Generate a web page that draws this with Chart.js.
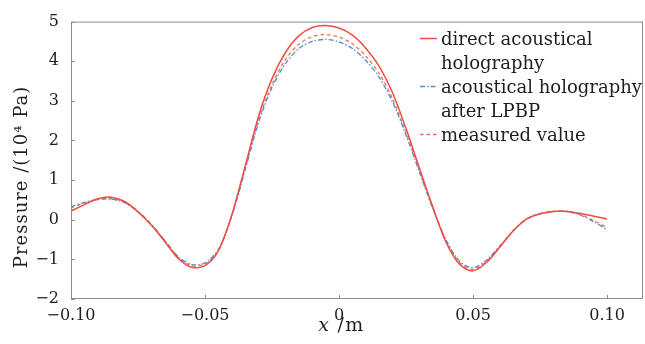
<!DOCTYPE html>
<html>
<head>
<meta charset="utf-8">
<script src="https://cdn.jsdelivr.net/npm/chart.js@4.4.1/dist/chart.umd.min.js"></script>
<style>
  html, body { margin: 0; padding: 0; background: #fff; }
  #wrap { width: 645px; height: 344px; }
</style>
</head>
<body>
<div id="wrap"><canvas id="chart" width="645" height="344"></canvas></div>
<script>
// x positions (m)
const xPos = [-0.100, -0.095, -0.090, -0.085, -0.080, -0.075, -0.070, -0.065, -0.060, -0.055,
              -0.050, -0.045, -0.040, -0.035, -0.030, -0.025, -0.020, -0.015, -0.010, -0.005,
               0.000,  0.005,  0.010,  0.015,  0.020,  0.025,  0.030,  0.035,  0.040,  0.045,
               0.050,  0.055,  0.060,  0.065,  0.070,  0.075,  0.080,  0.085,  0.090,  0.095, 0.100];

// pressure (10^4 Pa)
const direct = [0.22, 0.38, 0.53, 0.57, 0.46, 0.20, -0.14, -0.55, -0.98, -1.20,
                -1.16, -0.78, 0.12, 1.36, 2.62, 3.56, 4.22, 4.64, 4.85, 4.90,
                4.84, 4.66, 4.33, 3.87, 3.20, 2.30, 1.30, 0.32, -0.58, -1.13,
                -1.29, -1.08, -0.69, -0.28, 0.02, 0.15, 0.21, 0.21, 0.16, 0.09, 0.02];

const lpbp = [0.33, 0.44, 0.51, 0.52, 0.43, 0.20, -0.12, -0.52, -0.93, -1.13,
              -1.09, -0.75, 0.10, 1.26, 2.46, 3.34, 3.94, 4.32, 4.50, 4.55,
              4.49, 4.32, 4.02, 3.59, 2.97, 2.14, 1.20, 0.28, -0.52, -1.05,
              -1.21, -1.02, -0.66, -0.28, 0.02, 0.15, 0.21, 0.21, 0.12, -0.05, -0.25];

const measured = [0.30, 0.42, 0.51, 0.53, 0.44, 0.21, -0.12, -0.53, -0.95, -1.16,
                  -1.12, -0.77, 0.11, 1.30, 2.52, 3.41, 4.04, 4.43, 4.62, 4.67,
                  4.61, 4.44, 4.13, 3.69, 3.05, 2.19, 1.24, 0.29, -0.54, -1.08,
                  -1.25, -1.05, -0.67, -0.28, 0.02, 0.15, 0.21, 0.21, 0.13, -0.02, -0.20];

const xTicks = [-0.10, -0.05, 0, 0.05, 0.10];
const yTicks = [-2, -1, 0, 1, 2, 3, 4, 5];
const legendText = [
  ['direct acoustical', 'holography'],
  ['acoustical holography', 'after LPBP'],
  ['measured value']
];

const FONT = '"DejaVu Serif", "Liberation Serif", serif';
const INK = '#1e1e1e';

function pts(ys) {
  return xPos.map((x, i) => ({ x: x, y: ys[i] }));
}
function minus(s) {
  return s.replace('-', '\u2212');
}

// box, inward ticks, titles and legend
const decor = {
  id: 'decor',
  afterDraw(chart) {
    const { ctx, chartArea: a, scales } = chart;
    ctx.save();
    ctx.strokeStyle = '#8c8c8c';
    ctx.lineWidth = 1;
    ctx.strokeRect(a.left + 0.5, a.top + 0.5, a.right - a.left - 1, a.bottom - a.top - 1);
    ctx.beginPath();
    scales.x.ticks.forEach(t => {
      const px = Math.round(scales.x.getPixelForValue(t.value)) + 0.5;
      ctx.moveTo(px, a.bottom);
      ctx.lineTo(px, a.bottom - 4);
    });
    scales.y.ticks.forEach(t => {
      const py = Math.round(scales.y.getPixelForValue(t.value)) + 0.5;
      ctx.moveTo(a.left, py);
      ctx.lineTo(a.left + 4, py);
    });
    ctx.stroke();

    // x title
    ctx.fillStyle = INK;
    ctx.textBaseline = 'alphabetic';
    ctx.font = 'italic 19px ' + FONT;
    const xw = ctx.measureText('x').width;
    ctx.font = '19px ' + FONT;
    ctx.letterSpacing = '1.5px';
    const rw = ctx.measureText(' /m').width;
    const sx = 341 - (xw + rw) / 2;
    ctx.font = 'italic 19px ' + FONT;
    ctx.fillText('x', sx, 331);
    ctx.font = '19px ' + FONT;
    ctx.fillText(' /m', sx + xw + 1, 331);
    ctx.letterSpacing = '0px';

    // y title
    ctx.save();
    ctx.translate(27, 177);
    ctx.rotate(-Math.PI / 2);
    ctx.textAlign = 'center';
    ctx.font = '18px ' + FONT;
    ctx.letterSpacing = '1px';
    ctx.fillText('Pressure /(10\u2074 Pa)', 0, 0);
    ctx.restore();

    // legend
    const sampleY = [38, 86, 134];
    ctx.font = '18px ' + FONT;
    chart.data.datasets.forEach((ds, i) => {
      ctx.beginPath();
      ctx.strokeStyle = ds.borderColor;
      ctx.lineWidth = ds.borderWidth;
      ctx.setLineDash(ds.borderDash || []);
      ctx.moveTo(420, sampleY[i] + 0.5);
      ctx.lineTo(437, sampleY[i] + 0.5);
      ctx.stroke();
      ctx.setLineDash([]);
      legendText[i].forEach((line, j) => {
        ctx.fillText(line, 441, sampleY[i] + 7 + j * 23.5);
      });
    });
    ctx.restore();
  }
};

new Chart(document.getElementById('chart'), {
  type: 'scatter',
  data: {
    datasets: [
      {
        label: 'direct acoustical holography',
        data: pts(direct),
        showLine: true,
        borderColor: 'rgb(240, 78, 66)',
        borderWidth: 1.5,
        pointRadius: 0,
        tension: 0.3
      },
      {
        label: 'acoustical holography after LPBP',
        data: pts(lpbp),
        showLine: true,
        borderColor: 'rgb(84, 140, 210)',
        borderWidth: 1.3,
        borderDash: [5, 2, 1.5, 2],
        pointRadius: 0,
        tension: 0.3
      },
      {
        label: 'measured value',
        data: pts(measured),
        showLine: true,
        borderColor: 'rgb(240, 110, 80)',
        borderWidth: 1.3,
        borderDash: [3.5, 3],
        pointRadius: 0,
        tension: 0.3
      }
    ]
  },
  options: {
    responsive: false,
    animation: false,
    layout: { padding: { top: 18, right: 2, left: 0, bottom: 0 } },
    plugins: {
      legend: { display: false },
      tooltip: { enabled: false }
    },
    scales: {
      x: {
        type: 'linear',
        min: -0.10,
        max: 0.1134,
        afterBuildTicks: s => { s.ticks = xTicks.map(v => ({ value: v })); },
        afterFit: s => { s.height = 45; },
        grid: { display: false, drawTicks: false },
        border: { display: false },
        ticks: {
          padding: 7,
          color: INK,
          font: { family: FONT, size: 16 },
          maxRotation: 0,
          callback: v => v === 0 ? '0' : minus(v.toFixed(2))
        }
      },
      y: {
        min: -2,
        max: 5,
        afterBuildTicks: s => { s.ticks = yTicks.map(v => ({ value: v })); },
        afterFit: s => { s.width = 71; },
        grid: { display: false, drawTicks: false },
        border: { display: false },
        ticks: {
          padding: 12,
          color: INK,
          font: { family: FONT, size: 16 },
          callback: v => minus(String(v))
        }
      }
    }
  },
  plugins: [decor]
});
</script>
</body>
</html>
